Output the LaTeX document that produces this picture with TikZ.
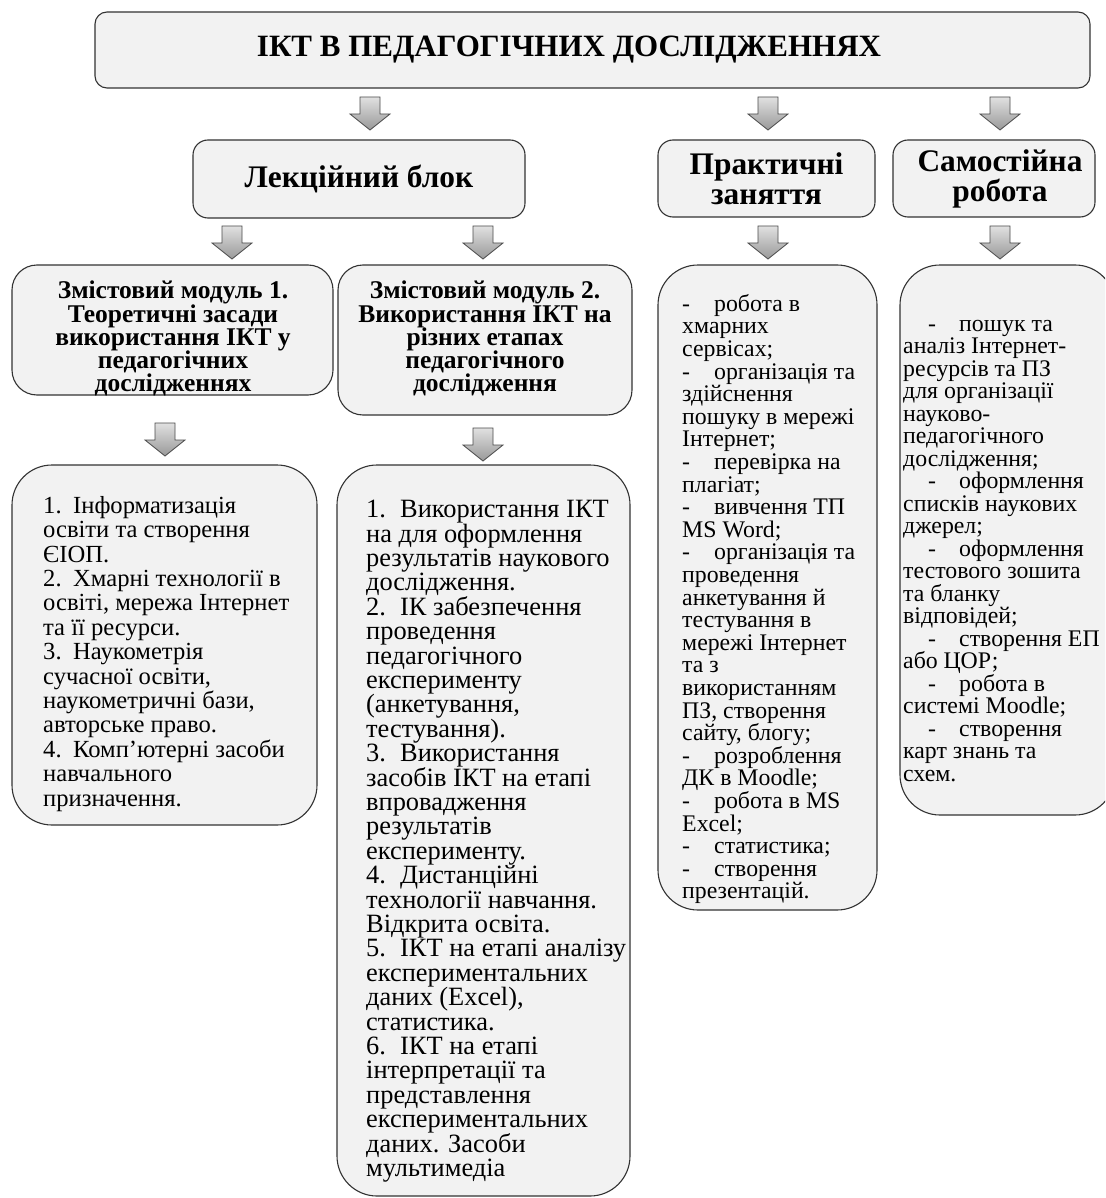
\documentclass[tikz,border=0pt]{standalone}
\usepackage{fontspec}
\setmainfont{Liberation Serif}
\begin{document}
\begin{tikzpicture}[x=1pt,y=-1pt,
  box/.style={draw=black!80, line width=1.1pt, fill=black!5, rounded corners=#1},
  box/.default=15pt,
  tightlines/.style={execute at begin node={\lineskiplimit=-1000pt\lineskip=0pt}},
  titlefont/.style={font=\fontsize{31}{34}\selectfont\bfseries},
  headfont/.style={font=\fontsize{31.4}{30}\selectfont\bfseries, tightlines, align=center},
  modfont/.style={font=\fontsize{25.5}{23.2}\selectfont\bfseries, tightlines, align=center, inner sep=0pt},
  bodyfont/.style={align=left, inner sep=0pt, tightlines},
  arrowfill/.style={draw=black!70, line width=0.8pt, top color=black!12, bottom color=black!40},
  downarr/.pic={\path[arrowfill] (-10,0) -- (10,0) -- (10,17) -- (20,17) -- (0,33) -- (-20,17) -- (-10,17) -- cycle;}
]
\fill[white] (0,0) rectangle (1105,1198);
\clip (0,0) rectangle (1105,1198);

% title
\node[box=12pt, minimum width=995pt, minimum height=76pt] (title) at (592.5,50) {};
\node[titlefont] (titlet) at (569,50) {ІКТ В ПЕДАГОГІЧНИХ ДОСЛІДЖЕННЯХ};

% second row
\node[box=15pt, minimum width=332pt, minimum height=78pt, headfont] (lect) at (359,179) {Лекційний блок};
\node[box=15pt, minimum width=217pt, minimum height=77pt, headfont] (prac) at (766.5,178.5) {Практичні\\заняття};
\node[box=15pt, minimum width=202pt, minimum height=77pt] (self) at (994,178.5) {};
\node[headfont] (selft) at (1000,178.5) {Самостійна\\робота};

% arrows
\pic at (370,97) {downarr};
\pic at (768,97) {downarr};
\pic at (1000,97) {downarr};
\pic at (232,226) {downarr};
\pic at (483,226) {downarr};
\pic at (768,226) {downarr};
\pic at (1000,226) {downarr};
\pic at (165,423) {downarr};
\pic at (483,428) {downarr};

% module headings
\node[box=25pt, minimum width=321pt, minimum height=130pt] (m1) at (172.5,330) {};
\node[modfont, anchor=north] (m1t) at (173,281) {Змістовий модуль 1.\\Теоретичні засади\\використання ІКТ у\\педагогічних\\дослідженнях};
\node[box=25pt, minimum width=294pt, minimum height=150pt] (m2) at (485,340) {};
\node[modfont, anchor=north] (m2t) at (485,281) {Змістовий модуль 2.\\Використання ІКТ на\\різних етапах\\педагогічного\\дослідження};

% content boxes
\node[box=40pt, minimum width=305pt, minimum height=360pt] (c1) at (164.5,645) {};
\node[bodyfont, font=\fontsize{24.6}{24.4}\selectfont, anchor=north west] (c1t) at (43,496) {\makebox[30pt][l]{1.}Інформатизація\\
освіти та створення\\
ЄІОП.\\
\makebox[30pt][l]{2.}Хмарні технології в\\
освіті, мережа Інтернет\\
та її ресурси.\\
\makebox[30pt][l]{3.}Наукометрія\\
сучасної освіти,\\
наукометричні бази,\\
авторське право.\\
\makebox[30pt][l]{4.}Комп’ютерні засоби\\
навчального\\
призначення.};

\node[box=40pt, minimum width=293pt, minimum height=731pt] (c2) at (483.5,830.5) {};
\node[bodyfont, font=\fontsize{26.4}{24.4}\selectfont, anchor=north west] (c2t) at (366,500) {\makebox[34pt][l]{1.}Використання ІКТ\\
на для оформлення\\
результатів наукового\\
дослідження.\\
\makebox[34pt][l]{2.}ІК забезпечення\\
проведення\\
педагогічного\\
експерименту\\
(анкетування,\\
тестування).\\
\makebox[34pt][l]{3.}Використання\\
засобів ІКТ на етапі\\
впровадження\\
результатів\\
експерименту.\\
\makebox[34pt][l]{4.}Дистанційні\\
технології навчання.\\
Відкрита освіта.\\
\makebox[34pt][l]{5.}ІКТ на етапі аналізу\\
експериментальних\\
даних (Excel),\\
статистика.\\
\makebox[34pt][l]{6.}ІКТ на етапі\\
інтерпретації та\\
представлення\\
експериментальних\\
даних. Засоби\\
мультимедіа};

\node[box=40pt, minimum width=219pt, minimum height=645pt] (c3) at (767.5,587.5) {};
\node[bodyfont, font=\fontsize{23.8}{22.6}\selectfont, anchor=north west] (c3t) at (682,294) {\makebox[32pt][l]{-}робота в\\
хмарних\\
сервісах;\\
\makebox[32pt][l]{-}організація та\\
здійснення\\
пошуку в мережі\\
Інтернет;\\
\makebox[32pt][l]{-}перевірка на\\
плагіат;\\
\makebox[32pt][l]{-}вивчення ТП\\
MS Word;\\
\makebox[32pt][l]{-}організація та\\
проведення\\
анкетування й\\
тестування в\\
мережі Інтернет\\
та з\\
використанням\\
ПЗ, створення\\
сайту, блогу;\\
\makebox[32pt][l]{-}розроблення\\
ДК в Moodle;\\
\makebox[32pt][l]{-}робота в MS\\
Excel;\\
\makebox[32pt][l]{-}статистика;\\
\makebox[32pt][l]{-}створення\\
презентацій.};

\node[box=40pt, minimum width=215pt, minimum height=550pt] (c4) at (1007.5,540) {};
\node[bodyfont, font=\fontsize{23.8}{22.5}\selectfont, anchor=north west] (c4t) at (903,320) {\hspace*{25pt}\makebox[31pt][l]{-}пошук та\\
аналіз Інтернет-\\
ресурсів та ПЗ\\
для організації\\
науково-\\
педагогічного\\
дослідження;\\
\hspace*{25pt}\makebox[31pt][l]{-}оформлення\\
списків наукових\\
джерел;\\
\hspace*{25pt}\makebox[31pt][l]{-}оформлення\\
тестового зошита\\
та бланку\\
відповідей;\\
\hspace*{25pt}\makebox[31pt][l]{-}створення ЕП\\
або ЦОР;\\
\hspace*{25pt}\makebox[31pt][l]{-}робота в\\
системі Moodle;\\
\hspace*{25pt}\makebox[31pt][l]{-}створення\\
карт знань та\\
схем.};
\end{tikzpicture}
\end{document}
